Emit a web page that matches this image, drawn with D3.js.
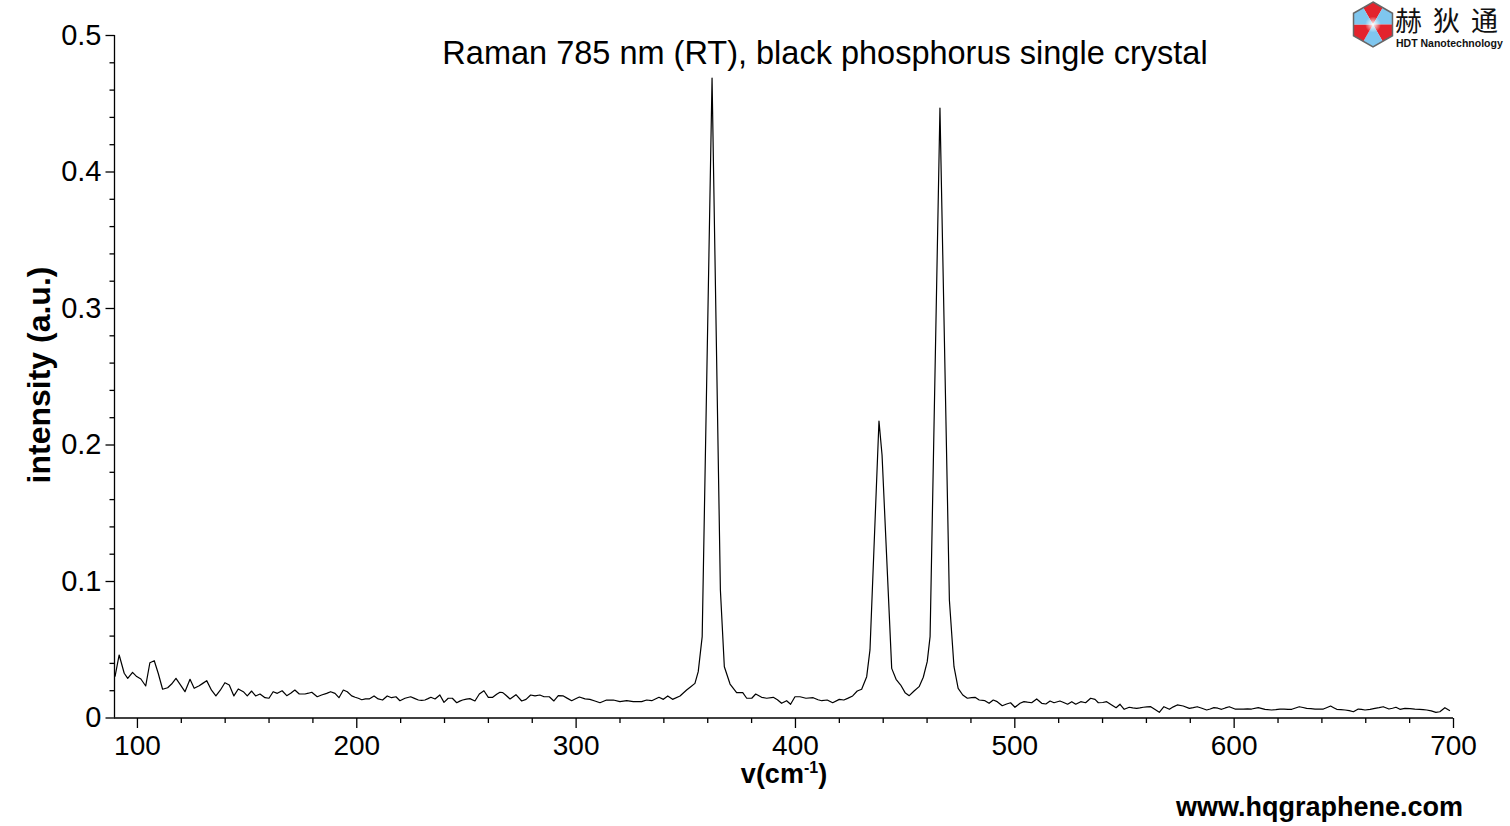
<!DOCTYPE html>
<html>
<head>
<meta charset="utf-8">
<script src="https://cdn.jsdelivr.net/npm/d3@7"></script>
<style>
  html, body { margin: 0; padding: 0; background: #fff; }
  svg { display: block; }
</style>
</head>
<body>
<svg id="chart" width="1510" height="826"></svg>
<script>
// ---- data ----
const wavenumber = [
  90.0, 91.9, 94.2, 95.8, 98.0, 99.9, 101.8, 104.0, 105.9, 107.9, 109.7, 111.7, 114.0, 115.8, 117.8, 119.6,
  121.9, 124.2, 126.1, 128.4, 130.0, 131.8, 134.0, 136.0, 138.0, 140.1, 142.1, 144.2, 146.2, 148.5, 150.3,
  152.3, 154.1, 156.1, 158.4, 160.2, 162.1, 164.0, 166.2, 168.3, 170.1, 172.0, 174.0, 176.6, 178.2, 179.7,
  182.2, 184.2, 186.5, 188.3, 190.3, 192.1, 194.1, 195.9, 197.9, 199.5, 200.9, 202.5, 204.2, 205.9, 208.1,
  210.0, 212.0, 214.1, 216.1, 218.1, 219.9, 222.2, 224.8, 226.5, 228.3, 229.8, 231.3, 232.7, 234.0, 235.9,
  238.1, 240.0, 241.9, 243.8, 245.8, 247.2, 248.5, 250.2, 251.8, 254.1, 256.1, 258.2, 260.2, 262.2, 264.0,
  265.5, 266.8, 268.1, 270.1, 272.8, 275.4, 277.4, 279.5, 281.5, 283.7, 285.6, 288.0, 290.1, 292.1, 294.4,
  296.3, 298.2, 300.0, 301.7, 304.3, 306.5, 308.8, 311.1, 314.1, 317.2, 320.2, 323.3, 326.3, 330.1, 332.4,
  334.7, 338.0, 340.0, 342.0, 344.2, 347.6, 350.6, 352.5, 354.4, 355.9, 357.7, 362.2, 366.0, 367.8, 370.4,
  373.4, 376.2, 378.0, 380.3, 382.1, 384.8, 387.1, 390.1, 392.0, 393.9, 396.2, 398.0, 400.0, 402.3, 405.0,
  408.3, 410.5, 412.2, 414.7, 417.2, 420.2, 422.3, 424.0, 426.3, 428.4, 430.4, 432.7, 434.2, 438.3, 439.7,
  444.1, 446.1, 448.2, 450.2, 452.1, 454.3, 456.6, 458.5, 460.3, 461.6, 466.1, 470.4, 472.5, 474.4, 476.5,
  478.6, 480.5, 482.1, 484.0, 486.6, 488.5, 490.4, 492.2, 494.5, 496.5, 498.3, 500.3, 502.6, 504.4, 506.0,
  507.9, 510.2, 512.5, 514.4, 516.3, 518.1, 520.8, 522.5, 524.3, 526.2, 528.0, 530.3, 532.5, 534.8, 536.8,
  538.3, 540.3, 542.1, 544.4, 546.4, 548.2, 550.1, 552.4, 554.0, 555.8, 557.2, 558.8, 560.5, 562.2, 564.0,
  566.1, 568.2, 570.7, 572.5, 574.3, 577.0, 579.8, 581.6, 583.4, 585.5, 587.7, 589.3, 591.0, 592.8, 594.5,
  596.2, 598.0, 600.6, 602.5, 604.4, 606.3, 608.2, 611.2, 614.3, 617.3, 619.2, 621.1, 623.0, 624.8, 626.5,
  628.2, 629.9, 631.6, 633.3, 635.2, 637.1, 639.0, 640.9, 642.6, 644.2, 645.6, 647.0, 648.9, 650.8, 652.7,
  654.6, 656.8, 658.3, 659.9, 662.2, 664.4, 666.3, 668.2, 670.8, 672.4, 674.0, 675.8, 678.1, 680.4, 682.6,
  684.8, 686.4, 688.0, 690.1, 692.2, 694.0, 696.3, 698.6
];
const intensity = [
  0.0300, 0.0458, 0.0324, 0.0287, 0.0331, 0.0300, 0.0282, 0.0231, 0.0401, 0.0416, 0.0324, 0.0207, 0.0218, 0.0245, 0.0287, 0.0245,
  0.0189, 0.0280, 0.0214, 0.0233, 0.0250, 0.0270, 0.0200, 0.0158, 0.0200, 0.0255, 0.0238, 0.0158, 0.0209, 0.0189, 0.0158,
  0.0194, 0.0158, 0.0172, 0.0145, 0.0141, 0.0189, 0.0177, 0.0196, 0.0160, 0.0177, 0.0201, 0.0172, 0.0172, 0.0178, 0.0185,
  0.0152, 0.0165, 0.0177, 0.0189, 0.0177, 0.0145, 0.0201, 0.0189, 0.0158, 0.0148, 0.0141, 0.0130, 0.0136, 0.0136, 0.0158,
  0.0136, 0.0128, 0.0158, 0.0145, 0.0152, 0.0123, 0.0141, 0.0152, 0.0140, 0.0128, 0.0125, 0.0128, 0.0138, 0.0148, 0.0136,
  0.0165, 0.0111, 0.0141, 0.0141, 0.0108, 0.0120, 0.0128, 0.0135, 0.0138, 0.0121, 0.0172, 0.0196, 0.0148, 0.0148, 0.0170,
  0.0185, 0.0182, 0.0165, 0.0136, 0.0167, 0.0121, 0.0133, 0.0165, 0.0158, 0.0165, 0.0152, 0.0152, 0.0121, 0.0160, 0.0158,
  0.0140, 0.0123, 0.0137, 0.0150, 0.0136, 0.0133, 0.0121, 0.0108, 0.0128, 0.0128, 0.0116, 0.0123, 0.0116, 0.0116, 0.0128,
  0.0123, 0.0148, 0.0133, 0.0158, 0.0133, 0.0158, 0.0201, 0.0225, 0.0250, 0.0336, 0.0592, 0.4685, 0.0934, 0.0372, 0.0245,
  0.0182, 0.0182, 0.0141, 0.0141, 0.0172, 0.0148, 0.0141, 0.0148, 0.0130, 0.0104, 0.0123, 0.0097, 0.0152, 0.0152, 0.0141,
  0.0145, 0.0130, 0.0123, 0.0128, 0.0108, 0.0133, 0.0128, 0.0140, 0.0158, 0.0194, 0.0207, 0.0299, 0.0495, 0.2172, 0.1923,
  0.0360, 0.0280, 0.0238, 0.0182, 0.0160, 0.0194, 0.0226, 0.0295, 0.0409, 0.0592, 0.4465, 0.0861, 0.0372, 0.0214, 0.0165,
  0.0141, 0.0145, 0.0148, 0.0128, 0.0123, 0.0104, 0.0128, 0.0116, 0.0086, 0.0099, 0.0108, 0.0075, 0.0104, 0.0116, 0.0112,
  0.0108, 0.0136, 0.0104, 0.0099, 0.0121, 0.0108, 0.0121, 0.0110, 0.0097, 0.0116, 0.0097, 0.0116, 0.0108, 0.0141, 0.0133,
  0.0108, 0.0110, 0.0116, 0.0092, 0.0072, 0.0097, 0.0060, 0.0075, 0.0070, 0.0067, 0.0070, 0.0075, 0.0078, 0.0079, 0.0060,
  0.0038, 0.0079, 0.0060, 0.0078, 0.0092, 0.0084, 0.0067, 0.0072, 0.0079, 0.0068, 0.0055, 0.0062, 0.0072, 0.0068, 0.0060,
  0.0070, 0.0079, 0.0062, 0.0062, 0.0062, 0.0063, 0.0062, 0.0072, 0.0060, 0.0055, 0.0058, 0.0062, 0.0062, 0.0060, 0.0060,
  0.0070, 0.0079, 0.0073, 0.0067, 0.0065, 0.0062, 0.0062, 0.0062, 0.0073, 0.0084, 0.0072, 0.0060, 0.0058, 0.0055, 0.0050,
  0.0042, 0.0062, 0.0060, 0.0055, 0.0060, 0.0067, 0.0072, 0.0079, 0.0062, 0.0068, 0.0075, 0.0060, 0.0067, 0.0065, 0.0062,
  0.0060, 0.0058, 0.0055, 0.0048, 0.0038, 0.0042, 0.0072, 0.0050
];
const xTickValues = [100, 200, 300, 400, 500, 600, 700];
const xTickLabels = ["100", "200", "300", "400", "500", "600", "700"];
const yTickValues = [0, 0.1, 0.2, 0.3, 0.4, 0.5];
const yTickLabels = ["0", "0.1", "0.2", "0.3", "0.4", "0.5"];
const chartTitle = "Raman 785 nm (RT), black phosphorus single crystal";
const yTitle = "intensity (a.u.)";
const watermark = "www.hqgraphene.com";
const logoCn = "赫狄通";
const logoEn = "HDT Nanotechnology";

// ---- layout ----
const svg = d3.select("#chart");
const X0 = 115, X1 = 1453, Y0 = 717.5, Y1 = 35;
const x = d3.scaleLinear().domain([90, 700]).range([X0, X1]);
const y = d3.scaleLinear().domain([0, 0.5]).range([Y0, Y1]);
const FONT = "'Liberation Sans', Arial, sans-serif";

// x axis: minor ticks
const xMinor = d3.range(100, 701, 20).filter(v => v % 100 !== 0);
svg.append("g")
  .attr("transform", `translate(0,${Y0 + 0.5})`)
  .call(d3.axisBottom(x).tickValues(xMinor).tickSize(5).tickSizeOuter(0).tickFormat(""))
  .call(g => g.select(".domain").remove())
  .call(g => g.selectAll("line").attr("stroke", "#000").attr("stroke-width", 1.3));
// x axis: major
svg.append("g")
  .attr("transform", `translate(0,${Y0 + 0.5})`)
  .call(d3.axisBottom(x).tickValues(xTickValues).tickSize(10).tickSizeOuter(0).tickPadding(7)
        .tickFormat((d, i) => xTickLabels[i]))
  .call(g => g.select(".domain").attr("stroke", "#000").attr("stroke-width", 1.3).attr("d", `M${X0 - 1},0H${X1}`))
  .call(g => g.selectAll("line").attr("stroke", "#000").attr("stroke-width", 1.3))
  .call(g => g.selectAll("text").attr("font-family", FONT).attr("font-size", 28).attr("fill", "#000"));

// y axis: minor ticks
const yMinor = d3.range(0, 0.5001, 0.02).map(v => +v.toFixed(2)).filter(v => Math.abs(v * 10 - Math.round(v * 10)) > 1e-6);
svg.append("g")
  .attr("transform", `translate(${X0 - 0.5},0)`)
  .call(d3.axisLeft(y).tickValues(yMinor).tickSize(5).tickSizeOuter(0).tickFormat(""))
  .call(g => g.select(".domain").remove())
  .call(g => g.selectAll("line").attr("stroke", "#000").attr("stroke-width", 1.3));
svg.append("g")
  .attr("transform", `translate(${X0 - 0.5},0)`)
  .call(d3.axisLeft(y).tickValues(yTickValues).tickSize(9).tickSizeOuter(0).tickPadding(4)
        .tickFormat((d, i) => yTickLabels[i]))
  .call(g => g.select(".domain").attr("stroke", "#000").attr("stroke-width", 1.3).attr("d", `M0,${Y1}V${Y0}`))
  .call(g => g.selectAll("line").attr("stroke", "#000").attr("stroke-width", 1.3))
  .call(g => g.selectAll("text").attr("font-family", FONT).attr("font-size", 29).attr("fill", "#000"));

// spectrum line
const pts = wavenumber.map((w, i) => [w, intensity[i]]);
svg.append("path")
  .datum(pts)
  .attr("fill", "none")
  .attr("stroke", "#000")
  .attr("stroke-width", 1.2)
  .attr("stroke-linejoin", "round")
  .attr("d", d3.line().x(d => x(d[0])).y(d => y(d[1])));

// title
svg.append("text")
  .attr("x", 825).attr("y", 64)
  .attr("text-anchor", "middle")
  .attr("font-family", FONT).attr("font-size", 32.5).attr("fill", "#000")
  .text(chartTitle);

// y title
svg.append("text")
  .attr("transform", "translate(50,375) rotate(-90)")
  .attr("text-anchor", "middle")
  .attr("font-family", FONT).attr("font-weight", "bold").attr("font-size", 32).attr("fill", "#000")
  .text(yTitle);

// x title
const xt = svg.append("text")
  .attr("x", 784).attr("y", 783)
  .attr("text-anchor", "middle")
  .attr("font-family", FONT).attr("font-weight", "bold").attr("font-size", 27).attr("fill", "#000");
xt.append("tspan").text("v(cm");
xt.append("tspan").attr("font-size", 16).attr("dy", -10).text("-1");
xt.append("tspan").attr("dy", 10).text(")");

// watermark
svg.append("text")
  .attr("x", 1463).attr("y", 816)
  .attr("text-anchor", "end")
  .attr("font-family", FONT).attr("font-weight", "bold").attr("font-size", 27).attr("fill", "#000")
  .text(watermark);

// logo
const logo = svg.append("g").attr("transform", "translate(1373,24.5)");
const R = 22.5;
const vert = a => [R * Math.cos(a * Math.PI / 180), -R * Math.sin(a * Math.PI / 180)];
const rm = R * Math.sqrt(3) / 2;
const mid = a => [rm * Math.cos(a * Math.PI / 180), -rm * Math.sin(a * Math.PI / 180)];
const centersDeg = [90, 30, -30, -90, -150, 150];
const wedgeColors = ["#e3232c", "#7fc6ee", "#e3232c", "#7fc6ee", "#e3232c", "#7fc6ee"];
centersDeg.forEach((c, i) => {
  const p = [[0, 0], mid(c + 30), vert(c), mid(c - 30)];
  logo.append("path").attr("d", "M" + p.map(q => q.join(",")).join("L") + "Z")
    .attr("fill", wedgeColors[i]);
});
const hex = [90, 30, -30, -90, -150, 150].map(vert);
logo.append("path").attr("d", "M" + hex.map(q => q.join(",")).join("L") + "Z")
  .attr("fill", "none").attr("stroke", "#666").attr("stroke-width", 1.5);
const glow = svg.append("defs").append("radialGradient").attr("id", "glow");
glow.append("stop").attr("offset", "0%").attr("stop-color", "#fff").attr("stop-opacity", 1);
glow.append("stop").attr("offset", "100%").attr("stop-color", "#fff").attr("stop-opacity", 0);
logo.append("circle").attr("r", 8).attr("fill", "url(#glow)");

svg.append("text")
  .attr("x", "1395 1433 1471").attr("y", 31)
  .attr("font-family", "'Noto Sans CJK SC', sans-serif").attr("font-size", 27)
  .attr("fill", "#111")
  .text(logoCn);
svg.append("text")
  .attr("x", 1396).attr("y", 46.5)
  .attr("font-family", FONT).attr("font-weight", "bold").attr("font-size", 10.5).attr("fill", "#111")
  .text(logoEn);
</script>
</body>
</html>
